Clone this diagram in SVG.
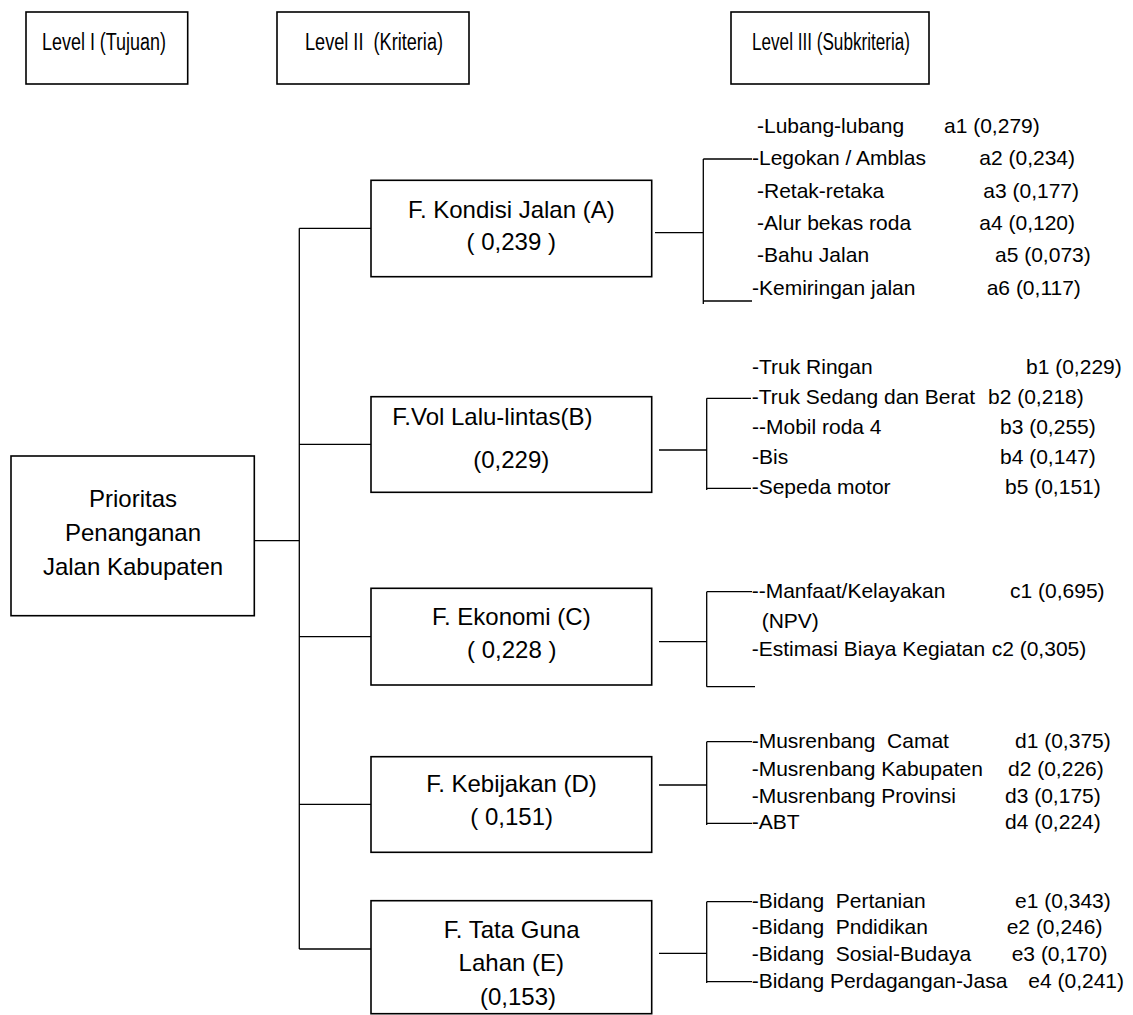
<svg xmlns="http://www.w3.org/2000/svg" width="1133" height="1015" viewBox="0 0 1133 1015">
<style>
.box{fill:#fff;stroke:#000;stroke-width:1.6}
.ln{fill:none;stroke:#000;stroke-width:1.3}
.lv{font-family:"Liberation Sans",Arial,sans-serif;font-size:23px;fill:#000}
.nd{font-family:"Liberation Sans",Arial,sans-serif;font-size:24px;fill:#000;text-anchor:middle}
.sb{font-family:"Liberation Sans",Arial,sans-serif;font-size:21px;fill:#000}
</style>
<rect width="1133" height="1015" fill="#fff"/>
<g id="connectors">
<path class="ln" d="M251,540.7H299.3M299.3,228.3V949M299.3,228.3H371M299.3,444.3H371M299.3,636.7H371M299.3,804.3H371M299.3,949H371"/>
<path class="ln" d="M655,232.7H703.3M703.3,159V304M703.3,159H752M703.3,301H752"/>
<path class="ln" d="M659,450H706.7M706.7,398.3V490M706.7,398.3H751M706.7,488.3H751"/>
<path class="ln" d="M659,641.7H706.7M706.7,591.7V686.7M706.7,591.7H752M706.7,686.7H755"/>
<path class="ln" d="M659,785H706.7M706.7,741.7V825M706.7,741.7H752M706.7,823.3H752"/>
<path class="ln" d="M659,953.3H706.7M706.7,901.7V983M706.7,901.7H752M706.7,981.7H752"/>
</g>
<g id="level1"><rect class="box" x="26" y="12" width="161.7" height="72"/><text class="lv" x="42" y="50" textLength="124" lengthAdjust="spacingAndGlyphs">Level I (Tujuan)</text></g>
<g id="level2"><rect class="box" x="277" y="12" width="192" height="72"/><text class="lv" x="305" y="50" textLength="138" lengthAdjust="spacingAndGlyphs" xml:space="preserve">Level II  (Kriteria)</text></g>
<g id="level3"><rect class="box" x="731" y="12" width="198" height="72"/><text class="lv" x="752" y="50" textLength="158" lengthAdjust="spacingAndGlyphs">Level III (Subkriteria)</text></g>
<g id="goal"><rect class="box" x="11" y="456" width="243.3" height="159.7"/>
<text class="nd" x="133" y="507">Prioritas</text><text class="nd" x="133" y="541">Penanganan</text><text class="nd" x="133" y="575">Jalan Kabupaten</text></g>
<g id="nodeA"><rect class="box" x="371" y="180.3" width="280.7" height="96.4"/>
<text class="nd" x="511.3" y="218">F. Kondisi Jalan (A)</text><text class="nd" x="511.3" y="250" xml:space="preserve">( 0,239 )</text></g>
<g id="nodeB"><rect class="box" x="371" y="396.7" width="280.7" height="95.6"/>
<text class="nd" x="392.3" y="425" style="text-anchor:start">F.Vol Lalu-lintas(B)</text><text class="nd" x="511.3" y="468">(0,229)</text></g>
<g id="nodeC"><rect class="box" x="371" y="588.3" width="280.7" height="96.7"/>
<text class="nd" x="511.3" y="625">F. Ekonomi (C)</text><text class="nd" x="511.8" y="658" xml:space="preserve">( 0,228 )</text></g>
<g id="nodeD"><rect class="box" x="371" y="756.7" width="280.7" height="95.6"/>
<text class="nd" x="511.5" y="792">F. Kebijakan (D)</text><text class="nd" x="511.7" y="825">( 0,151)</text></g>
<g id="nodeE"><rect class="box" x="371" y="900.7" width="280.7" height="113"/>
<text class="nd" x="511.7" y="938.3">F. Tata Guna</text><text class="nd" x="511.3" y="971">Lahan (E)</text><text class="nd" x="518" y="1005">(0,153)</text></g>
<g id="subA">
<text class="sb" y="133"><tspan x="757">-Lubang-lubang</tspan><tspan x="944">a1 (0,279)</tspan></text>
<text class="sb" y="165.3"><tspan x="752">-Legokan / Amblas</tspan><tspan x="979.3">a2 (0,234)</tspan></text>
<text class="sb" y="197.6"><tspan x="757">-Retak-retaka</tspan><tspan x="983.3">a3 (0,177)</tspan></text>
<text class="sb" y="230"><tspan x="757">-Alur bekas roda</tspan><tspan x="979.3">a4 (0,120)</tspan></text>
<text class="sb" y="262.2"><tspan x="757">-Bahu Jalan</tspan><tspan x="995">a5 (0,073)</tspan></text>
<text class="sb" y="294.5"><tspan x="752">-Kemiringan jalan</tspan><tspan x="986.7">a6 (0,117)</tspan></text>
</g>
<g id="subB">
<text class="sb" y="374.3"><tspan x="752">-Truk Ringan</tspan><tspan x="1026">b1 (0,229)</tspan></text>
<text class="sb" y="404.3"><tspan x="751.7">-Truk Sedang dan Berat</tspan><tspan x="988">b2 (0,218)</tspan></text>
<text class="sb" y="434.3"><tspan x="752">--Mobil roda 4</tspan><tspan x="1000">b3 (0,255)</tspan></text>
<text class="sb" y="464.3"><tspan x="752">-Bis</tspan><tspan x="1000">b4 (0,147)</tspan></text>
<text class="sb" y="494.3"><tspan x="751.7">-Sepeda motor</tspan><tspan x="1005">b5 (0,151)</tspan></text>
</g>
<g id="subC">
<text class="sb" y="597.7"><tspan x="751.7">--Manfaat/Kelayakan</tspan><tspan x="1010">c1 (0,695)</tspan></text>
<text class="sb" x="761.7" y="627.7">(NPV)</text>
<text class="sb" y="656"><tspan x="751.7">-Estimasi Biaya Kegiatan</tspan><tspan x="991.7">c2 (0,305)</tspan></text>
</g>
<g id="subD">
<text class="sb" y="747.7"><tspan x="751.7" xml:space="preserve">-Musrenbang  Camat</tspan><tspan x="1015">d1 (0,375)</tspan></text>
<text class="sb" y="776"><tspan x="751.7">-Musrenbang Kabupaten</tspan><tspan x="1008">d2 (0,226)</tspan></text>
<text class="sb" y="802.7"><tspan x="751.7">-Musrenbang Provinsi</tspan><tspan x="1005">d3 (0,175)</tspan></text>
<text class="sb" y="829.3"><tspan x="751.7">-ABT</tspan><tspan x="1005">d4 (0,224)</tspan></text>
</g>
<g id="subE">
<text class="sb" y="907.7"><tspan x="751.7" xml:space="preserve">-Bidang  Pertanian</tspan><tspan x="1015">e1 (0,343)</tspan></text>
<text class="sb" y="934.3"><tspan x="751.7" xml:space="preserve">-Bidang  Pndidikan</tspan><tspan x="1006.7">e2 (0,246)</tspan></text>
<text class="sb" y="961"><tspan x="751.7" xml:space="preserve">-Bidang  Sosial-Budaya</tspan><tspan x="1011.7">e3 (0,170)</tspan></text>
<text class="sb" y="987.7"><tspan x="751.7">-Bidang Perdagangan-Jasa</tspan><tspan x="1028.3">e4 (0,241)</tspan></text>
</g>
</svg>
